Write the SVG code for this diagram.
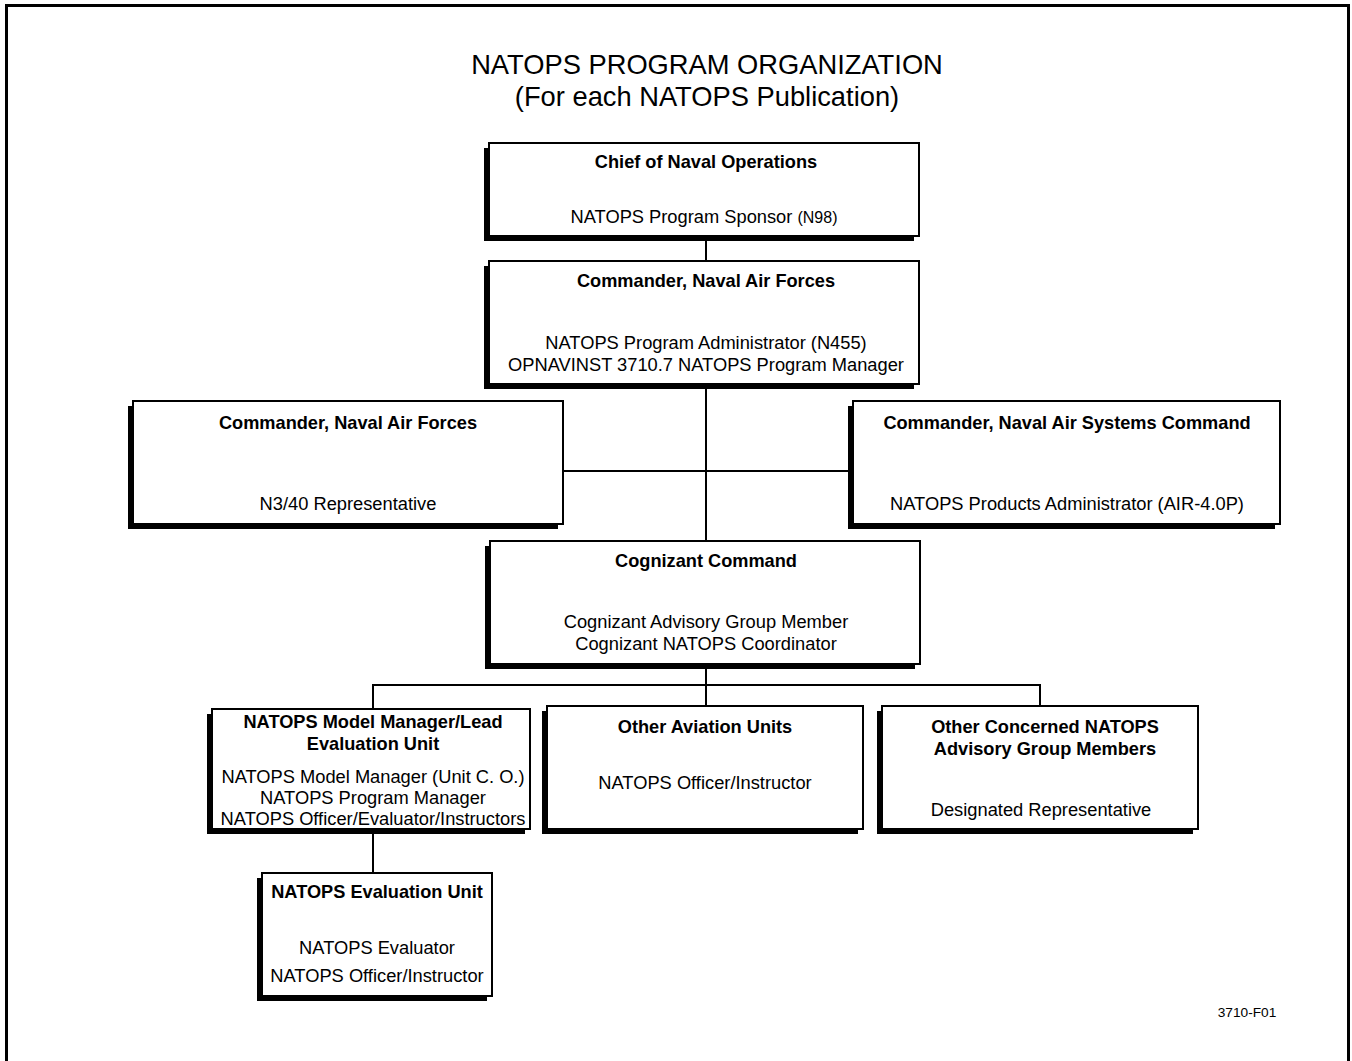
<svg xmlns="http://www.w3.org/2000/svg" width="1352" height="1061" viewBox="0 0 1352 1061">
<style>
  .shadow { fill: #000; }
  .box { fill: #fff; stroke: #000; stroke-width: 2; }
  .conn { stroke: #000; stroke-width: 2; fill: none; }
  text { font-family: "Liberation Sans", Arial, sans-serif; fill: #000; text-anchor: middle; }
  .t { font-size: 18.2px; font-weight: bold; }
  .b { font-size: 18.3px; }
  .s { font-size: 16px; }
  .title { font-size: 27.3px; }
</style>
<rect width="1352" height="1061" fill="#fff"/>
<rect x="6.5" y="5.5" width="1342" height="1070" fill="none" stroke="#000" stroke-width="3"/>
<text class="title" x="707" y="74">NATOPS PROGRAM ORGANIZATION</text>
<text class="title" x="707" y="106">(For each NATOPS Publication)</text>

<g id="connectors">
  <line class="conn" x1="706" y1="236" x2="706" y2="261"/>
  <line class="conn" x1="706" y1="384" x2="706" y2="540"/>
  <line class="conn" x1="563" y1="471" x2="853" y2="471"/>
  <line class="conn" x1="706" y1="663" x2="706" y2="706"/>
  <line class="conn" x1="373" y1="685" x2="1040" y2="685"/>
  <line class="conn" x1="373" y1="684" x2="373" y2="709"/>
  <line class="conn" x1="1040" y1="684" x2="1040" y2="706"/>
  <line class="conn" x1="373" y1="828" x2="373" y2="873"/>
</g>

<g id="cno">
  <rect class="shadow" x="484" y="148" width="430" height="93"/>
  <rect class="box" x="489" y="143" width="430" height="93"/>
  <text class="t" x="706" y="168">Chief of Naval Operations</text>
  <text class="b" x="704" y="223">NATOPS Program Sponsor <tspan class="s">(N98)</tspan></text>
</g>

<g id="cnaf-admin">
  <rect class="shadow" x="484" y="266" width="430" height="123"/>
  <rect class="box" x="489" y="261" width="430" height="123"/>
  <text class="t" x="706" y="287">Commander, Naval Air Forces</text>
  <text class="b" x="706" y="349">NATOPS Program Administrator (N455)</text>
  <text class="b" x="706" y="371">OPNAVINST 3710.7 NATOPS Program Manager</text>
</g>

<g id="cnaf-n340">
  <rect class="shadow" x="128" y="406" width="430" height="123"/>
  <rect class="box" x="133" y="401" width="430" height="123"/>
  <text class="t" x="348" y="429">Commander, Naval Air Forces</text>
  <text class="b" x="348" y="510">N3/40 Representative</text>
</g>

<g id="navair">
  <rect class="shadow" x="848" y="406" width="427" height="123"/>
  <rect class="box" x="853" y="401" width="427" height="123"/>
  <text class="t" x="1067" y="429">Commander, Naval Air Systems Command</text>
  <text class="b" x="1067" y="510">NATOPS Products Administrator (AIR-4.0P)</text>
</g>

<g id="cognizant">
  <rect class="shadow" x="485" y="546" width="430" height="123"/>
  <rect class="box" x="490" y="541" width="430" height="123"/>
  <text class="t" x="706" y="567">Cognizant Command</text>
  <text class="b" x="706" y="628">Cognizant Advisory Group Member</text>
  <text class="b" x="706" y="650">Cognizant NATOPS Coordinator</text>
</g>

<g id="model-manager">
  <rect class="shadow" x="207" y="714" width="318" height="120"/>
  <rect class="box" x="212" y="709" width="318" height="120"/>
  <text class="t" x="373" y="728">NATOPS Model Manager/Lead</text>
  <text class="t" x="373" y="750">Evaluation Unit</text>
  <text class="b" x="373" y="783">NATOPS Model Manager (Unit C. O.)</text>
  <text class="b" x="373" y="804">NATOPS Program Manager</text>
  <text class="b" x="373" y="825">NATOPS Officer/Evaluator/Instructors</text>
</g>

<g id="other-aviation">
  <rect class="shadow" x="542" y="711" width="316" height="123"/>
  <rect class="box" x="547" y="706" width="316" height="123"/>
  <text class="t" x="705" y="733">Other Aviation Units</text>
  <text class="b" x="705" y="789">NATOPS Officer/Instructor</text>
</g>

<g id="other-concerned">
  <rect class="shadow" x="877" y="711" width="316" height="123"/>
  <rect class="box" x="882" y="706" width="316" height="123"/>
  <text class="t" x="1045" y="733">Other Concerned NATOPS</text>
  <text class="t" x="1045" y="755">Advisory Group Members</text>
  <text class="b" x="1041" y="816">Designated Representative</text>
</g>

<g id="evaluation-unit">
  <rect class="shadow" x="257" y="878" width="230" height="123"/>
  <rect class="box" x="262" y="873" width="230" height="123"/>
  <text class="t" x="377" y="898">NATOPS Evaluation Unit</text>
  <text class="b" x="377" y="954">NATOPS Evaluator</text>
  <text class="b" x="377" y="982">NATOPS Officer/Instructor</text>
</g>

<text x="1247" y="1017" style="font-size:13.7px">3710-F01</text>
</svg>
